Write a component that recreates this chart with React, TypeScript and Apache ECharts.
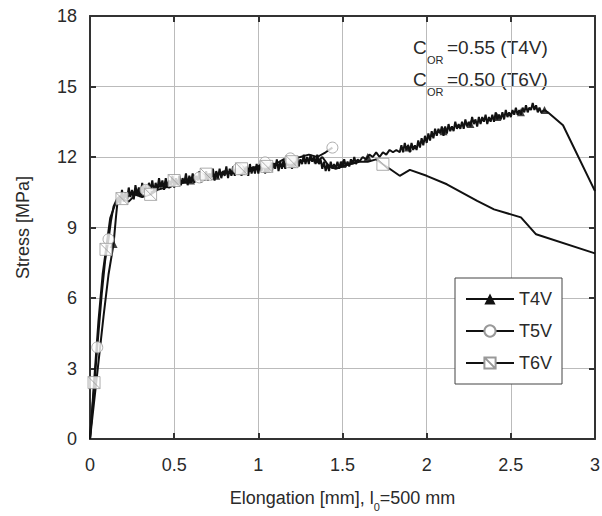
import React, { useEffect, useRef } from "react";
import * as echarts from "echarts";

const FONT = "'Liberation Sans', Arial, sans-serif";

const xMin = 0;
const xMax = 3;
const xStep = 0.5;
const yMin = 0;
const yMax = 18;
const yStep = 3;

const seriesNames = ["T4V", "T5V", "T6V"];

const t4vLine: number[][] = [
  [0, 0], [0.04, 2.6], [0.08, 5.2], [0.11, 7.0], [0.14, 8.3], [0.155, 9.5], [0.165, 10.2],
  [0.17, 10.3], [0.18, 10.0], [0.19, 10.6], [0.2, 10.1], [0.21, 10.5], [0.22, 10.2], [0.23, 10.7], [0.24, 10.3],
  [0.25, 10.6], [0.26, 10.2], [0.27, 10.8], [0.28, 10.4], [0.29, 10.7], [0.3, 10.3], [0.31, 10.9], [0.32, 10.5],
  [0.33, 10.8], [0.34, 10.4], [0.35, 10.9], [0.36, 10.6], [0.37, 11.0], [0.38, 10.5], [0.39, 10.9], [0.4, 10.6],
  [0.41, 11.1], [0.42, 10.7], [0.43, 11.0], [0.44, 10.6], [0.45, 11.1], [0.46, 10.7], [0.47, 11.0], [0.48, 10.8],
  [0.49, 11.2], [0.5, 10.7], [0.51, 11.1], [0.52, 10.8], [0.53, 11.2], [0.54, 10.8], [0.55, 11.1], [0.56, 10.9],
  [0.57, 11.3], [0.58, 10.8], [0.59, 11.2], [0.6, 10.9], [0.61, 11.3], [0.62, 10.9], [0.63, 11.2], [0.64, 11.0],
  [0.65, 11.4], [0.66, 10.9], [0.67, 11.3], [0.68, 11.0], [0.69, 11.4], [0.7, 11.0], [0.71, 11.3], [0.72, 11.1],
  [0.73, 11.5], [0.74, 11.0], [0.75, 11.4], [0.76, 11.1], [0.77, 11.5], [0.78, 11.1], [0.79, 11.4], [0.8, 11.2],
  [0.81, 11.6], [0.82, 11.1], [0.83, 11.5], [0.84, 11.2], [0.85, 11.6], [0.86, 11.2], [0.87, 11.5], [0.88, 11.3],
  [0.89, 11.7], [0.9, 11.2], [0.91, 11.6], [0.92, 11.3], [0.93, 11.6], [0.94, 11.2], [0.95, 11.7], [0.96, 11.3],
  [0.97, 11.6], [0.98, 11.3], [0.99, 11.7], [1.0, 11.3], [1.01, 11.7], [1.02, 11.4], [1.03, 11.8], [1.04, 11.3],
  [1.05, 11.7], [1.06, 11.4], [1.07, 11.8], [1.08, 11.4], [1.09, 11.7], [1.1, 11.5], [1.11, 11.9], [1.12, 11.4],
  [1.13, 11.8], [1.14, 11.5], [1.15, 11.9], [1.16, 11.5], [1.17, 11.8], [1.18, 11.6], [1.19, 12.0], [1.2, 11.5],
  [1.21, 11.9], [1.22, 11.6], [1.23, 12.0], [1.24, 11.6], [1.25, 11.9], [1.26, 11.7], [1.27, 12.1], [1.28, 11.7],
  [1.29, 12.0], [1.3, 11.7], [1.31, 12.1], [1.32, 11.8], [1.33, 12.0], [1.34, 11.7], [1.35, 12.1], [1.36, 11.7],
  [1.37, 11.9], [1.38, 11.5], [1.39, 11.8], [1.4, 11.4], [1.41, 11.7], [1.42, 11.4], [1.43, 11.8], [1.44, 11.5],
  [1.45, 11.7], [1.46, 11.5], [1.47, 11.8], [1.48, 11.5], [1.49, 11.8], [1.5, 11.6], [1.51, 11.9], [1.52, 11.6],
  [1.53, 11.8], [1.54, 11.6], [1.55, 11.9], [1.56, 11.7], [1.57, 12.0], [1.58, 11.7], [1.59, 11.9], [1.6, 11.8],
  [1.62, 12.0], [1.64, 11.9], [1.66, 12.1], [1.68, 12.0], [1.7, 12.2], [1.72, 12.0], [1.74, 12.2], [1.76, 12.1],
  [1.78, 12.3], [1.8, 12.2], [1.82, 12.3], [1.84, 12.2], [1.85, 12.5], [1.86, 12.2], [1.87, 12.6], [1.88, 12.3],
  [1.89, 12.5], [1.9, 12.2], [1.91, 12.6], [1.92, 12.3], [1.93, 12.5], [1.94, 12.3], [1.95, 12.7], [1.96, 12.4],
  [1.97, 12.8], [1.98, 12.5], [1.99, 12.9], [2.0, 12.6], [2.01, 13.0], [2.02, 12.7], [2.03, 13.1], [2.04, 12.8],
  [2.05, 13.2], [2.06, 12.9], [2.07, 13.2], [2.08, 13.0], [2.09, 13.3], [2.1, 12.9], [2.11, 13.3], [2.12, 13.0],
  [2.13, 13.4], [2.14, 13.1], [2.15, 13.3], [2.16, 13.1], [2.17, 13.5], [2.18, 13.2], [2.19, 13.4], [2.2, 13.2],
  [2.21, 13.5], [2.22, 13.2], [2.23, 13.6], [2.24, 13.3], [2.25, 13.5], [2.26, 13.3], [2.27, 13.7], [2.28, 13.4],
  [2.29, 13.6], [2.3, 13.3], [2.31, 13.7], [2.32, 13.4], [2.33, 13.7], [2.34, 13.5], [2.35, 13.8], [2.36, 13.4],
  [2.37, 13.7], [2.38, 13.5], [2.39, 13.8], [2.4, 13.5], [2.41, 13.9], [2.42, 13.6], [2.43, 13.8], [2.44, 13.6],
  [2.45, 13.9], [2.46, 13.6], [2.47, 14.0], [2.48, 13.7], [2.49, 13.9], [2.5, 13.7], [2.51, 14.0], [2.52, 13.8],
  [2.53, 14.1], [2.54, 13.8], [2.55, 14.0], [2.56, 13.8], [2.57, 14.1], [2.58, 13.9], [2.59, 14.2], [2.6, 13.9],
  [2.61, 14.1], [2.62, 14.0], [2.63, 14.3], [2.64, 14.0], [2.65, 14.2], [2.66, 13.9], [2.67, 14.1], [2.68, 13.9],
  [2.7, 14.0], [2.72, 13.9], [2.81, 13.35], [3.0, 10.55],
];

const t4vMarks: number[][] = [
  [0.14, 8.3], [0.3, 10.5], [0.45, 10.9], [0.6, 11.0], [0.75, 11.2], [0.9, 11.4], [1.05, 11.5],
  [1.2, 11.7], [1.35, 11.9], [1.5, 11.7], [1.65, 12.0], [1.89, 12.4], [2.1, 13.1], [2.26, 13.4],
  [2.42, 13.7], [2.56, 13.9], [2.7, 14.0],
];

const t5vLine: number[][] = [
  [0, 0], [0.02, 1.8], [0.043, 3.9], [0.07, 6.2], [0.09, 7.6], [0.11, 8.5], [0.125, 9.3], [0.14, 9.9],
  [0.16, 10.2], [0.19, 10.4], [0.22, 10.3], [0.26, 10.5], [0.3, 10.4], [0.33, 10.6], [0.37, 10.5],
  [0.42, 10.8], [0.47, 10.7], [0.52, 10.9], [0.58, 10.9], [0.65, 11.13], [0.7, 11.1], [0.76, 11.3],
  [0.82, 11.3], [0.88, 11.5], [0.94, 11.5], [1.0, 11.6], [1.04, 11.77], [1.1, 11.7], [1.15, 11.9],
  [1.19, 11.94], [1.25, 12.0], [1.3, 12.1], [1.35, 12.0], [1.4, 12.2], [1.44, 12.4],
];

const t5vMarks: number[][] = [
  [0.043, 3.9], [0.11, 8.5], [0.33, 10.6], [0.65, 11.13], [0.88, 11.5], [1.04, 11.77], [1.19, 11.94], [1.44, 12.4],
];

const t6vLine: number[][] = [
  [0, 0], [0.01, 1.0], [0.024, 2.4], [0.05, 5.0], [0.075, 7.0], [0.095, 8.07], [0.12, 9.4], [0.15, 10.0],
  [0.19, 10.23], [0.23, 10.1], [0.27, 10.4], [0.31, 10.3], [0.36, 10.41], [0.4, 10.6], [0.45, 10.7],
  [0.5, 11.0], [0.55, 10.9], [0.6, 11.1], [0.65, 11.1], [0.69, 11.27], [0.75, 11.2], [0.8, 11.4],
  [0.85, 11.3], [0.9, 11.5], [0.95, 11.4], [1.0, 11.6], [1.05, 11.6], [1.1, 11.7], [1.15, 11.6],
  [1.2, 11.8], [1.25, 11.8], [1.3, 11.9], [1.35, 11.8], [1.38, 12.0], [1.42, 11.6], [1.46, 11.5],
  [1.5, 11.6], [1.55, 11.7], [1.6, 11.8], [1.65, 11.8], [1.7, 11.9], [1.74, 11.69], [1.78, 11.5],
  [1.84, 11.2], [1.9, 11.45], [2.0, 11.2], [2.12, 10.84], [2.3, 10.13], [2.4, 9.77], [2.56, 9.43],
  [2.65, 8.71], [3.0, 7.9],
];

const t6vMarks: number[][] = [
  [0.024, 2.4], [0.095, 8.07], [0.19, 10.23], [0.36, 10.41], [0.5, 11.0], [0.69, 11.27], [0.9, 11.5],
  [1.05, 11.6], [1.2, 11.8], [1.74, 11.69],
];

const squareSymbol = "path://M0,0L10,0L10,10L0,10Z M0,0L10,10";

const notes = [
  { main: "C", sub: "OR", rest: "=0.55 (T4V)" },
  { main: "C", sub: "OR", rest: "=0.50 (T6V)" },
];

export default function App() {
  const ref = useRef<HTMLDivElement>(null);
  useEffect(() => {
    if (!ref.current) return;
    const chart = echarts.init(ref.current, undefined, { renderer: "svg" });
    const axisLineStyle = { color: "#333", width: 2 };
    const labelStyle = { fontSize: 18, color: "#2a2a2a", fontFamily: FONT };
    const noteGraphics: any[] = [];
    notes.forEach((n, i) => {
      const y = 47 + i * 32;
      noteGraphics.push(
        { type: "text", x: 413, y, style: { text: n.main, fontSize: 19, fontFamily: FONT, fill: "#2a2a2a", verticalAlign: "middle" } },
        { type: "text", x: 427, y: y + 13, style: { text: n.sub, fontSize: 11, fontFamily: FONT, fill: "#2a2a2a", verticalAlign: "middle" } },
        { type: "text", x: 447, y, style: { text: n.rest, fontSize: 19, fontFamily: FONT, fill: "#2a2a2a", verticalAlign: "middle" } }
      );
    });
    const lineSeries = (name: string, data: number[][], symbol: string, size: number, itemStyle: any) => ({
      name,
      type: "line",
      data,
      symbol,
      symbolSize: size,
      showSymbol: false,
      lineStyle: { color: "#111", width: 2 },
      itemStyle,
      z: 2,
      silent: true,
    });
    const markSeries = (name: string, data: number[][], symbol: string, size: number, itemStyle: any) => ({
      name,
      type: "scatter",
      data,
      symbol,
      symbolSize: size,
      itemStyle,
      z: 3,
      silent: true,
    });
    const triStyle = { color: "#111" };
    const openStyle = { color: "#fff", borderColor: "#999", borderWidth: 1 };
    chart.setOption({
      animation: false,
      backgroundColor: "#fff",
      grid: { left: 90, right: 7, top: 16, bottom: 77, containLabel: false, outerBoundsMode: "none" },
      legend: {
        data: seriesNames,
        orient: "vertical",
        left: 455,
        top: 278,
        padding: [12, 10, 12, 10],
        itemWidth: 48,
        itemHeight: 14,
        itemGap: 14,
        borderColor: "#444",
        borderWidth: 1,
        backgroundColor: "#fff",
        selectedMode: false,
        textStyle: { fontSize: 18, color: "#2a2a2a", fontFamily: FONT },
      },
      xAxis: [
        {
          type: "value",
          min: xMin,
          max: xMax,
          interval: xStep,
          position: "bottom",
          axisLine: { show: true, onZero: false, lineStyle: axisLineStyle },
          axisTick: { show: true, inside: true, length: 6, lineStyle: axisLineStyle },
          axisLabel: { ...labelStyle, margin: 17 },
          splitLine: { show: true, lineStyle: { color: "#bbb", width: 1 } },
          name: "Elongation [mm], l{s|0}=500 mm",
          nameLocation: "middle",
          nameGap: 44,
          nameTextStyle: {
            fontSize: 18,
            color: "#2a2a2a",
            fontFamily: FONT,
            rich: { s: { fontSize: 11, color: "#2a2a2a", fontFamily: FONT, padding: [18, 0, 0, 0] } },
          },
        },
        {
          type: "value",
          min: xMin,
          max: xMax,
          interval: xStep,
          position: "top",
          axisLine: { show: true, onZero: false, lineStyle: axisLineStyle },
          axisTick: { show: true, inside: true, length: 6, lineStyle: axisLineStyle },
          axisLabel: { show: false },
          splitLine: { show: false },
        },
      ],
      yAxis: [
        {
          type: "value",
          min: yMin,
          max: yMax,
          interval: yStep,
          position: "left",
          axisLine: { show: true, onZero: false, lineStyle: axisLineStyle },
          axisTick: { show: true, inside: true, length: 6, lineStyle: axisLineStyle },
          axisLabel: { ...labelStyle, margin: 13 },
          splitLine: { show: true, lineStyle: { color: "#bbb", width: 1 } },
          name: "Stress [MPa]",
          nameLocation: "middle",
          nameGap: 58,
          nameTextStyle: { fontSize: 18, color: "#2a2a2a", fontFamily: FONT },
        },
        {
          type: "value",
          min: yMin,
          max: yMax,
          interval: yStep,
          position: "right",
          axisLine: { show: true, onZero: false, lineStyle: axisLineStyle },
          axisTick: { show: true, inside: true, length: 6, lineStyle: axisLineStyle },
          axisLabel: { show: false },
          splitLine: { show: false },
        },
      ],
      series: [
        lineSeries("T4V", t4vLine, "triangle", 10, triStyle),
        lineSeries("T5V", t5vLine, "circle", 11, openStyle),
        lineSeries("T6V", t6vLine, squareSymbol, 12, openStyle),
        markSeries("T4V", t4vMarks, "triangle", 8, triStyle),
        markSeries("T5V", t5vMarks, "circle", 11, openStyle),
        markSeries("T6V", t6vMarks, squareSymbol, 12, openStyle),
      ],
      graphic: noteGraphics,
    });
    return () => chart.dispose();
  }, []);
  return (
    <div
      ref={ref}
      style={{ position: "fixed", left: 0, top: 0, width: 602, height: 516, background: "#fff" }}
    />
  );
}
